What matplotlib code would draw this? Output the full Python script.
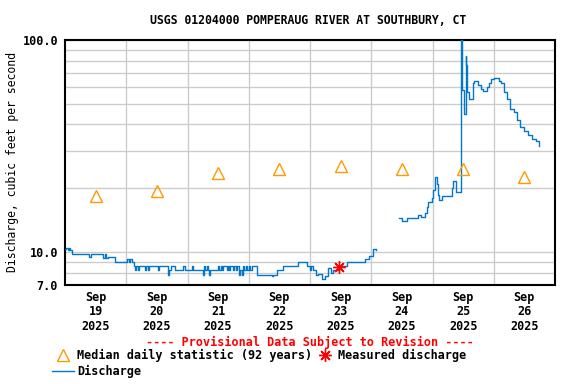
import numpy as np
import matplotlib
matplotlib.use('Agg')
import matplotlib.pyplot as plt
from matplotlib.lines import Line2D

plt.rcParams['font.family'] = 'DejaVu Sans Mono'
plt.rcParams['font.weight'] = 'bold'

# hours since 2025-09-19 00:00, discharge in cfs
hours_a = [0.0, 0.5, 1.0, 1.5, 2.0, 2.8, 9.4, 10.2, 14.9, 15.7, 16.2, 16.8, 19.6,
           24.3, 25.0, 25.5, 26.3, 27.0, 27.4, 27.8, 28.7, 29.1, 31.3, 31.7, 32.6, 33.0,
           36.3, 36.7, 40.5, 40.9, 41.5, 43.1, 46.1, 47.0, 49.6, 50.0, 54.2, 54.6,
           55.0, 55.5, 56.0, 56.4, 56.8, 60.0, 60.4, 61.0, 61.6, 62.0, 63.3, 63.7,
           64.2, 64.6, 66.0, 66.4, 67.0, 67.3, 68.2, 68.6, 69.2, 69.6, 70.2, 70.8,
           71.4, 72.0, 72.6, 73.1, 75.1, 81.0, 81.4, 83.0, 85.3, 91.4, 94.7, 96.0,
           96.5, 97.3, 98.5, 99.3, 100.8, 102.0, 103.0, 104.2, 105.0, 107.0, 110.5,
           117.5, 119.0, 120.5, 122.0]
flow_a = [10.3, 10.5, 10.2, 10.5, 10.2, 9.8, 9.5, 9.8, 9.4, 9.8, 9.4, 9.5, 9.0,
          9.3, 9.0, 9.3, 9.0, 8.6, 8.2, 8.6, 8.2, 8.6, 8.2, 8.6, 8.2, 8.6,
          8.2, 8.6, 7.8, 8.2, 8.6, 8.2, 8.6, 8.2, 8.6, 8.2, 7.8, 8.6,
          8.2, 8.6, 8.2, 7.8, 8.2, 8.6, 8.2, 8.6, 8.2, 8.6, 8.2, 8.6,
          8.2, 8.6, 8.2, 8.6, 8.2, 8.6, 7.8, 8.2, 7.8, 8.6, 8.2, 8.6,
          8.2, 8.6, 8.2, 8.6, 7.8, 7.7, 7.8, 8.2, 8.6, 9.0, 8.6, 8.2,
          8.6, 8.2, 7.8, 7.9, 7.5, 7.7, 8.4, 8.0, 8.2, 8.6, 9.0,
          9.3, 9.6, 10.3, 10.2]

hours_b = [131.0, 131.9, 133.9, 134.5, 138.4, 139.5, 141.0, 141.7, 142.4, 143.7,
           144.3, 145.0, 145.6, 146.0, 146.7, 147.6, 148.5, 149.5, 151.5, 152.1,
           153.2, 153.9, 154.8, 155.2, 155.7, 156.3, 157.0, 157.1, 157.5, 158.3,
           159.9, 160.2, 161.8, 163.0, 163.8, 165.3, 166.1, 166.9, 168.1, 170.0,
           170.8, 172.0, 173.2, 174.3, 175.9, 177.1, 178.3, 179.8, 181.4, 183.0,
           184.5, 185.7]
flow_b = [14.5, 14.0, 14.5, 14.5, 14.9, 14.7, 15.3, 16.4, 17.2, 18.0,
          19.6, 22.7, 21.0, 18.6, 17.7, 18.3, 18.4, 18.4, 20.0, 21.7,
          19.3, 19.3, 19.3, 115.0, 58.0, 45.0, 84.0, 76.0, 57.0, 52.6,
          62.6, 64.0, 61.5, 58.7, 57.5, 60.0, 63.0, 65.6, 66.3, 64.0,
          62.6, 57.0, 52.7, 47.2, 46.0, 42.0, 39.0, 37.3, 35.8, 34.3,
          33.3, 31.6]

median_days = [0.5, 1.5, 2.5, 3.5, 4.5, 5.5, 6.5, 7.5]
median_flow = [18.4, 19.4, 23.6, 24.6, 25.5, 24.6, 24.6, 22.5]

measured_hours = [107.5]
measured_flow = [8.5]

day_labels = ['Sep\n19\n2025', 'Sep\n20\n2025', 'Sep\n21\n2025', 'Sep\n22\n2025',
              'Sep\n23\n2025', 'Sep\n24\n2025', 'Sep\n25\n2025', 'Sep\n26\n2025']

blue = '#0077cc'
orange = '#ff9900'

fig = plt.figure(figsize=(5.76, 3.84), dpi=100)
ax = fig.add_axes([65/576, 1-285/384, 490/576, 245/384])

ax.plot(np.array(hours_a)/24, flow_a, color=blue, lw=1, drawstyle='steps-post', zorder=3)
ax.plot(np.array(hours_b)/24, flow_b, color=blue, lw=1, drawstyle='steps-post', zorder=3)
ax.plot(median_days, median_flow, '^', ms=8, mfc='none', mec=orange, mew=1, zorder=4)
ax.plot(np.array(measured_hours)/24, measured_flow, marker=(8, 2, 0), ls='none',
        ms=9, color='red', mew=1, zorder=5)

ax.set_yscale('log')
ax.set_ylim(7, 100)
ax.set_xlim(0, 8)
ax.set_yticks([7, 10, 100])
ax.set_yticklabels(['7.0', '10.0', '100.0'])
ax.set_yticks([8, 9, 20, 30, 40, 50, 60, 70, 80, 90], minor=True)
ax.yaxis.set_minor_formatter(matplotlib.ticker.NullFormatter())
ax.set_xticks(median_days)
ax.set_xticklabels(day_labels, linespacing=1.15)
ax.set_xticks(range(1, 8), minor=True)
ax.tick_params(which='both', length=0, labelsize=8.5)
ax.tick_params(axis='x', pad=4)
ax.tick_params(axis='y', pad=5)
ax.grid(True, which='both', color='#cccccc', lw=1)
ax.grid(False, which='major', axis='x')
ax.set_axisbelow(True)
for s in ax.spines.values():
    s.set_linewidth(1.5)

ax.set_ylabel('Discharge, cubic feet per second', fontsize=8.3)
ax.yaxis.set_label_coords(-0.093, 0.5)
fig.text(308/576, 1-20/384, 'USGS 01204000 POMPERAUG RIVER AT SOUTHBURY, CT',
         ha='center', va='center', fontsize=8.3, weight='bold')
fig.text(310/576, 1-342/384, '---- Provisional Data Subject to Revision ----',
         ha='center', va='center', fontsize=8.5, weight='bold', color='red')

handles = [Line2D([], [], ls='none', marker='^', ms=8, mfc='none', mec=orange),
           Line2D([], [], color=blue, lw=1),
           Line2D([], [], ls='none', marker=(8, 2, 0), ms=9, color='red')]
labels = ['Median daily statistic (92 years)', 'Discharge', 'Measured discharge']
fig.legend(handles, labels, ncol=2, loc='upper left', bbox_to_anchor=(52/576, 1-349/384),
           frameon=False, fontsize=8.5, handlelength=1.9, handletextpad=0.2,
           columnspacing=0.15, labelspacing=0.25, borderpad=0, borderaxespad=0)

fig.savefig('out.png', dpi=100)
